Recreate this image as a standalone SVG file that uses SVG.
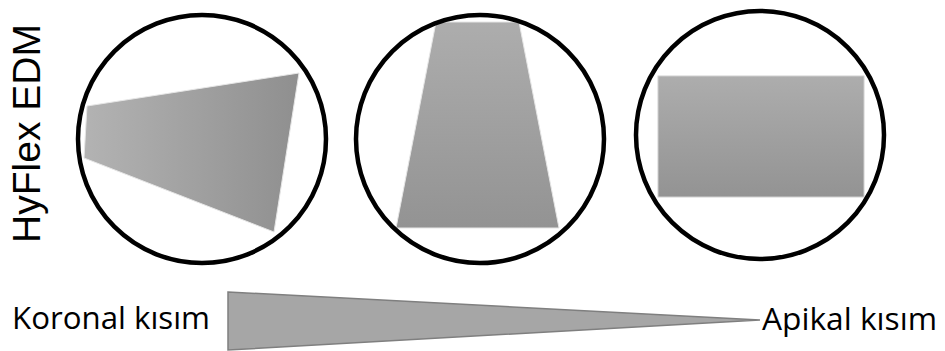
<svg xmlns="http://www.w3.org/2000/svg" width="945" height="351" viewBox="0 0 945 351">
<defs>
<linearGradient id="gH" x1="0" y1="0" x2="1" y2="0"><stop offset="0" stop-color="#b3b3b3"/><stop offset="1" stop-color="#8f8f8f"/></linearGradient>
<linearGradient id="gV" x1="0" y1="0" x2="0" y2="1"><stop offset="0" stop-color="#adadad"/><stop offset="1" stop-color="#939393"/></linearGradient>
</defs>
<style>
.ring{fill:none;stroke:#000;stroke-width:4.5}
.lbl{font-family:"Open Sans","Liberation Sans",sans-serif;fill:#000}
</style>
<rect width="945" height="351" fill="#fff"/>
<text transform="translate(40,133.5) rotate(-90)" text-anchor="middle" font-size="39" style="font-family:'Liberation Sans',Arial,sans-serif" fill="#000">HyFlex EDM</text>
<g id="node1">
<polygon points="87,106 299,73 274,232 84,158" fill="url(#gH)" stroke="#e6e6e6" stroke-width="1"/>
<circle class="ring" cx="202" cy="139" r="124"/>
</g>
<g id="node2">
<polygon points="436,22 519,22 559,228 396,228" fill="url(#gV)" stroke="#e6e6e6" stroke-width="1"/>
<circle class="ring" cx="480" cy="139" r="124"/>
</g>
<g id="node3">
<rect x="658" y="76" width="206" height="121" fill="url(#gV)" stroke="#d0d0d0" stroke-width="1"/>
<circle class="ring" cx="760" cy="135" r="124"/>
</g>
<g id="connectors">
<polygon points="228,292 760,320 228,350" fill="#a6a6a6" stroke="#7f7f7f" stroke-width="1.5"/>
</g>
<text class="lbl" x="12" y="329" font-size="31" textLength="198" lengthAdjust="spacingAndGlyphs">Koronal kısım</text>
<text class="lbl" x="762" y="330" font-size="31" textLength="175" lengthAdjust="spacingAndGlyphs">Apikal kısım</text>
</svg>
